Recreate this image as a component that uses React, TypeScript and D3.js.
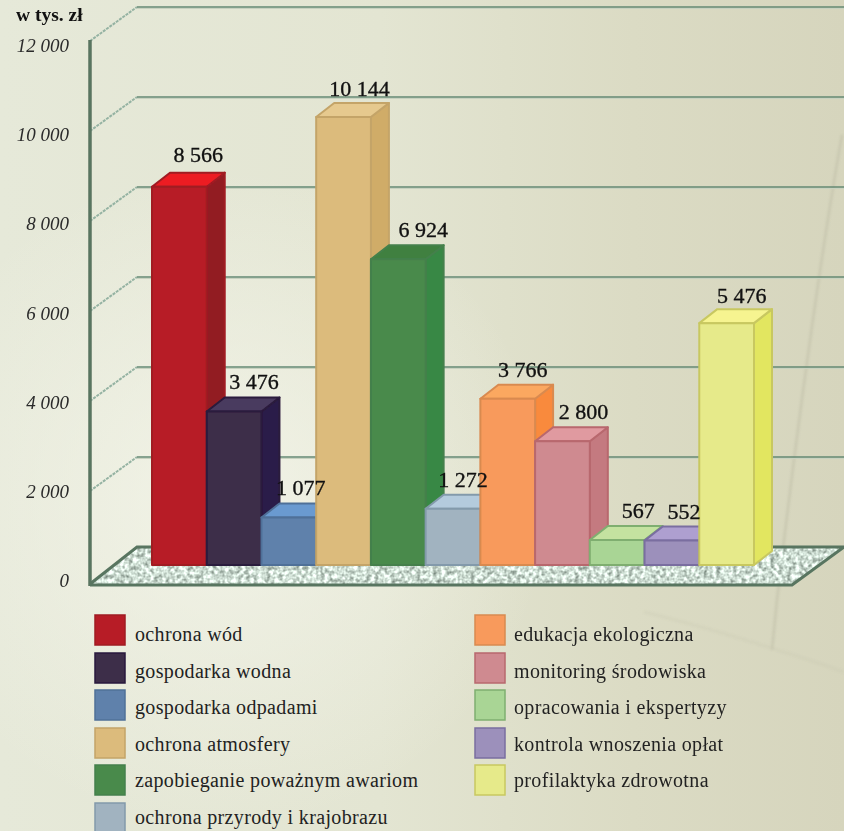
import React from "react";
import * as d3 from "d3";

const categories = ["ochrona wód","gospodarka wodna","gospodarka odpadami","ochrona atmosfery","zapobieganie poważnym awariom","ochrona przyrody i krajobrazu","edukacja ekologiczna","monitoring środowiska","opracowania i ekspertyzy","kontrola wnoszenia opłat","profilaktyka zdrowotna"];
const values = [8566,3476,1077,10144,6924,1272,3766,2800,567,552,5476];
const valueLabels = ["8 566","3 476","1 077","10 144","6 924","1 272","3 766","2 800","567","552","5 476"];
const labelNudgeX = [19,20,12,16,25,10,15,21,21,12,15];
const labelNudgeY = [-25,-22,-22,-21,-22,-22,-22,-22,-22,-22,-20];
const frontColors = ["#b71c25","#3e2d4a","#5f81ab","#dcbb7c","#4a8a4b","#a1b3c0","#f89a5c","#cf8a90","#a9d595","#9c90bb","#e6ea8a"];
const topColors = ["#ec1c24","#4a3a5e","#6a9ad0","#e6c98e","#3f8040","#b4cbdd","#fba860","#e09aa0","#c4e2a0","#ae9fd0","#f6f490"];
const sideColors = ["#921c22","#2b1c48","#4f6f98","#d0ac68","#398844","#8fa2b2","#f98a3c","#c47a80","#96c684","#8a7eb0","#e2e660"];
const edgeColors = ["#a01a22","#2a1a3c","#4f7098","#c4a468","#44804c","#839aab","#d98a50","#b8686e","#7fae70","#7a6ea0","#c8c860"];
const ticks = [0,2000,4000,6000,8000,10000,12000];
const tickLabels = ["0","2 000","4 000","6 000","8 000","10 000","12 000"];

const W = 844, H = 831;
const gridY = d3.scaleLinear().domain([0,12000]).range([581,41]);
const labelY = d3.scaleLinear().domain([0,12000]).range([587,52]);
const barY = d3.scaleLinear().domain([0,12000]).range([565,35]);
const barX = d3.scaleBand<number>().domain(d3.range(11)).range([152,754]).paddingInner(0).paddingOuter(0);
const legendRow = d3.scaleLinear().domain([0,5]).range([641,824]);
const DX = 47, DY = -34, BDX = 18, BDY = -14;
const serif = "'Liberation Serif', serif";

export default function App() {
  const bw = barX.bandwidth();
  const legendTops = [615,653,690,728,765,803];
  const legend = categories.map((c, i) => {
    const r = i < 6 ? i : i - 6;
    return { c, i, x: i < 6 ? 95 : 475, tx: i < 6 ? 135 : 514, y: legendTops[r], by: legendRow(r) };
  });
  const poly = (p: number[][]) => p.map(q => q.join(",")).join(" ");
  return (
    <svg width={W} height={H} style={{ position: "absolute", left: 0, top: 0, fontFamily: serif }}>
      <defs>
        <linearGradient id="bg" x1="0" y1="0" x2="1" y2="0">
          <stop offset="0" stopColor="#e6e9d9" />
          <stop offset="0.45" stopColor="#e3e5d2" />
          <stop offset="0.75" stopColor="#dbdbc4" />
          <stop offset="1" stopColor="#d6d5bd" />
        </linearGradient>
        <radialGradient id="glow" gradientUnits="userSpaceOnUse" cx={220} cy={500} r={330}>
          <stop offset="0" stopColor="#f4f5ea" stopOpacity="0.85" />
          <stop offset="1" stopColor="#f4f5ea" stopOpacity="0" />
        </radialGradient>
        <filter id="speckle" x="0" y="0" width="100%" height="100%" colorInterpolationFilters="sRGB">
          <feTurbulence type="fractalNoise" baseFrequency="0.24" numOctaves="2" seed="4" />
          <feColorMatrix values="0.9 0 0 0 0.36  0.9 0 0 0 0.42  0.9 0 0 0 0.38  0 0 0 0 1" />
          <feGaussianBlur stdDeviation="0.6" />
          <feComposite in2="SourceAlpha" operator="in" />
        </filter>
        <filter id="soft" x="-5%" y="-5%" width="110%" height="110%">
          <feGaussianBlur stdDeviation="0.45" />
        </filter>
        <filter id="softer" x="-10%" y="-10%" width="120%" height="120%">
          <feGaussianBlur stdDeviation="1" />
        </filter>
      </defs>
      <rect width={W} height={H} fill="url(#bg)" />
      <rect width={W} height={H} fill="url(#glow)" />
      <g fill="none" stroke="#c6c5ae" filter="url(#softer)" opacity={0.8}>
        <path d="M842 135 C825 230 800 400 777 600 L772 650" strokeWidth={2.5} />
        <path d="M644 612 C710 628 780 650 844 672" strokeWidth={2.5} opacity={0.35} />
      </g>

      <g filter="url(#soft)">
        {ticks.filter(t => t > 0).map(t => (
          <g key={t} fill="none">
            <path d={`M90 ${gridY(t)} L${90 + DX} ${gridY(t) + DY}`} stroke="#94b2a2" strokeWidth={2} strokeDasharray="3 1" />
            <path d={`M${90 + DX} ${gridY(t) + DY + 1.5} H${W}`} stroke="#c8d2c0" strokeWidth={1.2} />
            <path d={`M${90 + DX} ${gridY(t) + DY} H${W}`} stroke="#648875" strokeWidth={1.3} />
          </g>
        ))}
        <polygon points={poly([[90,584],[137,547],[844,548],[792,585]])} fill="#aaa" filter="url(#speckle)" />
        <path d="M90 584 L137 547 H844 L792 585 H90" fill="none" stroke="#587560" strokeWidth={3} />
        <line x1={90} y1={40} x2={90} y2={586} stroke="#587560" strokeWidth={3.5} />
      </g>

      {tickLabels.map((l, i) => (
        <text key={l} x={69} y={labelY(ticks[i])} textAnchor="end" fontSize={19} fontStyle="italic" fill="#2a2a2a">{l}</text>
      ))}
      <text x={16} y={21} fontSize={19.5} fontWeight="bold" fill="#111">w tys. zł</text>

      <g filter="url(#soft)">
        {values.map((v, i) => {
          const x0 = barX(i)!, x1 = x0 + bw, y0 = barY(v), yb = barY(0);
          return (
            <g key={i} stroke={edgeColors[i]} strokeWidth={2} strokeLinejoin="round">
              <polygon fill={sideColors[i]} points={poly([[x1,y0],[x1+BDX,y0+BDY],[x1+BDX,yb+BDY],[x1,yb]])} />
              <polygon fill={topColors[i]} points={poly([[x0,y0],[x0+BDX,y0+BDY],[x1+BDX,y0+BDY],[x1,y0]])} />
              <rect x={x0} y={y0} width={bw} height={yb - y0} fill={frontColors[i]} />
            </g>
          );
        })}
      </g>
      {values.map((v, i) => (
        <text key={i} x={barX(i)! + bw / 2 + labelNudgeX[i]} y={barY(v) + labelNudgeY[i]} textAnchor="middle" fontSize={22} fill="#111" stroke="#111" strokeWidth={0.35}>{valueLabels[i]}</text>
      ))}

      {legend.map(({ c, i, x, tx, y, by }) => (
        <g key={c}>
          <rect x={x} y={y} width={30} height={30} fill={frontColors[i]} stroke={edgeColors[i]} strokeWidth={1.5} filter="url(#soft)" />
          <text x={tx} y={by} fontSize={20} letterSpacing={0.35} fill="#222">{c}</text>
        </g>
      ))}
    </svg>
  );
}
